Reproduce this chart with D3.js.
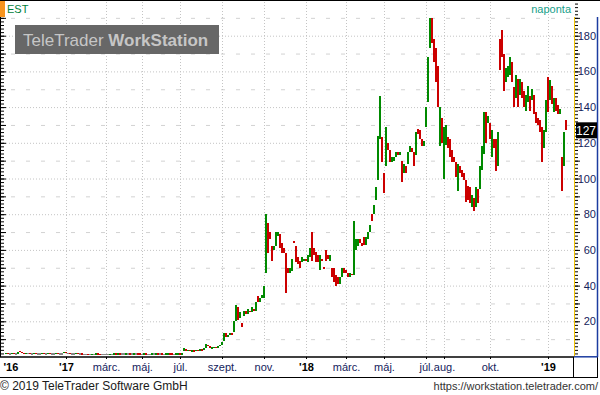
<!DOCTYPE html>
<html>
<head>
<meta charset="utf-8">
<script src="https://cdn.jsdelivr.net/npm/d3@7"></script>
<style>
  body{margin:0;background:#fff;}
  svg{display:block;font-family:"Liberation Sans",Arial,sans-serif;}
</style>
</head>
<body>
<div id="chart"></div>
<script>
// daily candles (one every 2px), open and close
const opens = [
  2.0,2.3,2.1,2.1,2.4,2.2,2.2,3.4,3.0,2.4,
  2.2,2.5,2.5,2.2,2.2,2.5,2.2,2.2,2.2,2.4,
  2.2,2.2,2.5,2.2,2.2,2.2,2.4,2.2,2.2,2.2,
  2.9,2.3,2.3,2.1,2.1,2.1,2.3,2.1,2.1,1.9,
  1.9,1.9,1.7,1.7,1.9,1.9,2.1,1.9,1.7,1.7,
  1.7,1.7,1.7,1.9,1.9,2.2,2.0,2.2,2.0,2.0,
  2.0,2.2,2.2,2.0,2.0,2.2,2.2,2.0,1.8,1.8,
  2.0,1.8,1.8,1.8,2.0,2.0,2.2,2.0,2.0,1.8,
  1.8,2.0,2.2,2.0,1.8,1.8,2.0,2.2,
  2.0,3.5,4.5,3.2,4.2,3.6,3.8,3.4,4.0,3.7,
  4.4,4.2,5.0,6.8,6.0,5.2,5.5,5.8,5.2,6.0,
  7.0,9.0,13.5,11,12.5,13.5,14,20,28,22,
  19,23,26,24,26,25,27,26,34,31,
  33,33,
  47,75,70,62,60,62,68,69,64,61,
  58,50,47,48,65,62,56,54,53,54,
  55,53,56,70,61,59,57,49,55,50.5,
  60,57,54,50,50,46,45,41,45,50,
  49,47,45,46.5,46,60,62,66,64,67,
  63,66,70,80,80,88,99,122,123,103,
  107,120,116,109,110,112,115,113,110,103,
  107,108,115,117,115,113,128,127,122,118,
  129,143,173,190,178,173,163,118,134,100,
  119,123,122,116,112,109,93,107,105,103,
  99,96,95,84,89,84,94,94,105,114,
  137,131,131,112,122,122,107,178,183,170,
  154,157,158,165,151,145,156,147,154,149,
  138,143,146,144,147,137,134,133,129,117,
  126,157,144,152,137,145,141,136,112,107,
  133
];
const closes = [
  2.3,2.1,2.1,2.4,2.2,2.2,2.6,2.6,2.4,2.2,
  2.5,2.5,2.2,2.2,2.5,2.2,2.2,2.2,2.4,2.2,
  2.2,2.5,2.2,2.2,2.2,2.4,2.2,2.2,2.2,2.9,
  2.3,2.3,2.1,2.1,2.1,2.3,2.1,2.1,1.9,1.9,
  1.9,1.7,1.7,1.9,1.9,2.1,1.9,1.7,1.7,1.7,
  1.7,1.7,1.9,1.9,2.2,2.0,2.2,2.0,2.0,2.0,
  2.2,2.2,2.0,2.0,2.2,2.2,2.0,1.8,1.8,2.0,
  1.8,1.8,1.8,2.0,2.0,2.2,2.0,2.0,1.8,1.8,
  2.0,2.2,2.0,1.8,1.8,2.0,2.2,2.0,
  2.2,5.0,3.2,4.0,3.6,3.8,3.4,4.0,3.7,4.4,
  4.2,5.0,7.2,6.0,5.2,5.5,5.8,5.2,6.0,7.0,
  8.5,13.5,11,12.5,13.5,12.5,20,29,21,25,
  17,26,24,27,25,28,26,31,31,33,
  35,40,
  80,58,66,54,62,70,70,61,58,58,
  36,47,50,55,64,53,52,50,56,55,
  54,57,61,54,57,53,53,57,54,49.5,
  54,55,57,45,42,40,41,45,50,47,
  47,45,47,45.8,76,66,66,64,62,63,
  67,70,74,76,85,95,124,146,109,92,
  129,116,109,112,112,115,113,115,98,108,
  103,115,118,115,107,126,125,122,118,121,
  140,168,190,176,165,154,140,140,120,129,
  130,117,112,109,109,101,108,103,101,99,
  87,88,86,91,82,95,86,107,118,137,
  120,135,122,127,117,104,126,161,168,149,
  162,163,168,154,140,158,140,156,145,140,
  147,152,138,150,136,131,130,126,109,127,
  144,137,155,142,145,138,136,139,93,126,
  127
];

// month ticks, as candle index
const xTickIdx = [0, 30, 50, 68, 87, 108, 129, 150, 170, 189, 210, 219, 242, 271];
const xTickLabels = ["'16", "'17", "márc.", "máj.", "júl.", "szept.", "nov.", "'18", "márc.", "máj.", "júl.", "aug.", "okt.", "'19"];
const yTicks = [20, 40, 60, 80, 100, 120, 140, 160, 180];
const lastPrice = 127;

const green = '#008a00', red = '#cc0000', gray = '#888888';
const navy = '#14225c';

const svg = d3.select('#chart').append('svg')
    .attr('width', 600).attr('height', 395);

const xs = d3.scaleLinear().domain([0, opens.length - 1]).range([6, 566]);
const ys = d3.scaleLinear().domain([0, 200]).range([357, 0]);

// minor horizontal grid (short dashes)
svg.append('g')
    .call(d3.axisRight(ys).tickValues(d3.range(10, 200, 20)).tickSize(574).tickFormat(''))
    .call(g => g.select('.domain').remove())
    .selectAll('line').attr('stroke', '#d2d2d2').attr('stroke-dasharray', '4,11').attr('stroke-dashoffset', 4);

// major horizontal grid (dotted)
svg.append('g')
    .call(d3.axisRight(ys).tickValues(yTicks).tickSize(574).tickFormat(''))
    .call(g => g.select('.domain').remove())
    .selectAll('line').attr('stroke', '#c4c4c4').attr('stroke-dasharray', '1,2');

// vertical grid at month ticks (not for '16)
svg.append('g')
    .attr('transform', 'translate(0,357)')
    .call(d3.axisBottom(xs).tickValues(xTickIdx.slice(1)).tickSize(-357).tickFormat(''))
    .call(g => g.select('.domain').remove())
    .selectAll('line').attr('stroke', '#c4c4c4').attr('stroke-dasharray', '1,2');

// watermark
svg.append('rect').attr('x', 15).attr('y', 25).attr('width', 204).attr('height', 29).attr('fill', '#676767');
const wm = svg.append('text').attr('x', 23).attr('y', 46).attr('font-size', 17).attr('fill', '#c6c6c6');
wm.append('tspan').text('TeleTrader ');
wm.append('tspan').attr('font-weight', 'bold').text('WorkStation');

// candles
svg.append('g')
    .selectAll('rect')
    .data(opens.map((o, i) => ({i, o, c: closes[i]})))
    .join('rect')
    .attr('x', d => xs(d.i) - 1)
    .attr('width', 2)
    .attr('y', d => ys(Math.max(d.o, d.c)))
    .attr('height', d => Math.max(1.5, Math.abs(ys(d.o) - ys(d.c))))
    .attr('fill', d => d.c > d.o ? green : d.c < d.o ? red : gray)
    .attr('shape-rendering', 'crispEdges');

// frame lines
const line = (x1, y1, x2, y2, col, w) => svg.append('line')
    .attr('x1', x1).attr('y1', y1).attr('x2', x2).attr('y2', y2)
    .attr('stroke', col).attr('stroke-width', w || 1);
line(0, 0.5, 600, 0.5, '#000');
line(0.5, 17, 0.5, 357, '#000');
line(0, 357, 574, 357, '#000', 1.5);
line(0, 377.5, 598, 377.5, '#000');
line(573.5, 357, 573.5, 378, '#000');
line(597.5, 357, 597.5, 378, '#000');
line(574.5, 17, 574.5, 357, '#f2c200');
line(597.5, 17, 597.5, 357, '#1c3ca0', 1.5);
line(574, 356.8, 598, 356.8, '#1c3ca0', 1.5);

// left and right minor ticks
[[1, 1], [575, 1]].forEach(([x0]) => {
    svg.append('g')
        .attr('transform', `translate(${x0},0)`)
        .call(d3.axisRight(ys).tickValues(d3.range(2, 200, 2)).tickSize(3).tickFormat(''))
        .call(g => g.select('.domain').remove())
        .selectAll('line').attr('stroke', '#000');
    svg.append('g')
        .attr('transform', `translate(${x0},0)`)
        .call(d3.axisRight(ys).tickValues(d3.range(10, 200, 10)).tickSize(5).tickFormat(''))
        .call(g => g.select('.domain').remove())
        .selectAll('line').attr('stroke', '#000');
});

// right axis labels
svg.append('g')
    .attr('transform', 'translate(574,0)')
    .call(d3.axisRight(ys).tickValues(yTicks).tickSize(0))
    .call(g => g.select('.domain').remove())
    .selectAll('text')
    .attr('x', 22).attr('text-anchor', 'end')
    .attr('font-size', 11).attr('font-family', '"Liberation Sans",Arial,sans-serif')
    .attr('fill', navy);

// last price box
svg.append('rect').attr('x', 576).attr('y', ys(lastPrice) - 8).attr('width', 21).attr('height', 16).attr('fill', '#000');
svg.append('text').attr('x', 596).attr('y', ys(lastPrice) + 4.5).attr('text-anchor', 'end')
    .attr('font-size', 12).attr('fill', '#fff').text(lastPrice);

// bottom axis
const xa = svg.append('g')
    .attr('transform', 'translate(0,357)')
    .call(d3.axisBottom(xs).tickValues(xTickIdx).tickSize(2).tickPadding(4)
        .tickFormat((d, i) => xTickLabels[i]));
xa.select('.domain').remove();
xa.selectAll('line').attr('stroke', '#000').attr('opacity', (d, i) => i === 0 ? 0 : 1);
xa.selectAll('text')
    .attr('font-size', 11).attr('font-family', '"Liberation Sans",Arial,sans-serif')
    .attr('fill', (d, i) => xTickLabels[i][0] === "'" ? '#000' : navy)
    .attr('font-weight', (d, i) => xTickLabels[i][0] === "'" ? 'bold' : 'normal')
    .attr('text-anchor', (d, i) => i === 0 ? 'start' : 'middle')
    .attr('x', (d, i) => i === 0 ? -3 : 0);

// top labels
svg.append('rect').attr('x', 0).attr('y', 1).attr('width', 5).attr('height', 16).attr('fill', '#f7941d');
svg.append('text').attr('x', 7).attr('y', 13).attr('font-size', 11).attr('fill', '#00803a').text('EST');
svg.append('text').attr('x', 571).attr('y', 13).attr('font-size', 11).attr('text-anchor', 'end')
    .attr('fill', '#16a08a').text('naponta');

// footer
svg.append('text').attr('x', 0).attr('y', 390).attr('font-size', 12).attr('fill', '#1a1a1a')
    .text('© 2019 TeleTrader Software GmbH');
svg.append('text').attr('x', 598).attr('y', 390).attr('font-size', 11).attr('text-anchor', 'end')
    .attr('fill', '#333').text('https://workstation.teletrader.com/');
</script>
</body>
</html>
